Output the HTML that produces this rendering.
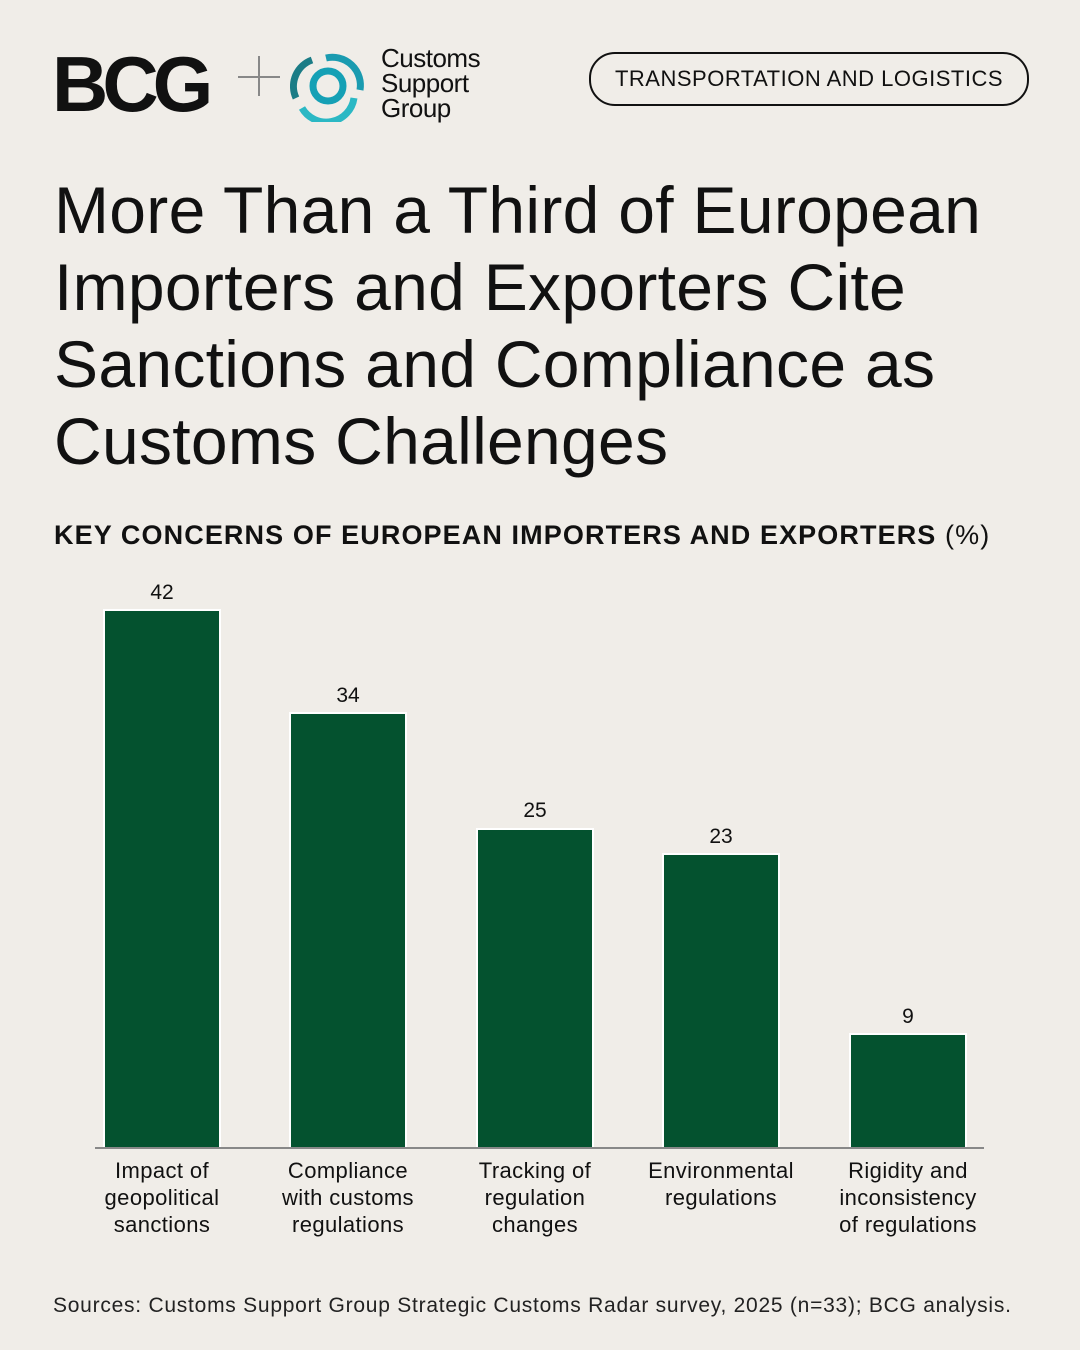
<!DOCTYPE html>
<html><head><meta charset="utf-8"><style>
body{margin:0;width:1080px;height:1350px;background:#f0ede8;font-family:"Liberation Sans",sans-serif;color:#111;position:relative;overflow:hidden}
.a{position:absolute}
.bar{position:absolute;background:#04522f;border:2px solid #fff;box-sizing:border-box;width:118px}
.v{position:absolute;width:118px;text-align:center;font-size:21px}
.l{position:absolute;width:190px;text-align:center;font-size:22px;line-height:27px;letter-spacing:0.4px}
</style></head><body>
<div class="a" style="left:52px;top:44px;font-size:78px;font-weight:bold;letter-spacing:-6px;line-height:80px">BCG</div>
<div class="a" style="left:238px;top:76px;width:42px;height:2px;background:#888"></div>
<div class="a" style="left:258px;top:56px;width:2px;height:40px;background:#888"></div>
<svg class="a" style="left:290px;top:50px" width="76" height="72" viewBox="0 0 76 72">
<path d="M36 8 A28 28 0 0 1 70 40" stroke="#1a9bb0" stroke-width="7" fill="none"/>
<path d="M64 48 A28 28 0 0 1 12 58" stroke="#2bb8c4" stroke-width="7" fill="none"/>
<path d="M6 48 A28 28 0 0 1 22 10" stroke="#1b7c86" stroke-width="7" fill="none"/>
<circle cx="38" cy="36" r="15" stroke="#15a0b5" stroke-width="7" fill="none"/>
</svg>
<div class="a" style="left:381px;top:46px;font-size:26px;line-height:25px;letter-spacing:-0.5px">Customs<br>Support<br>Group</div>
<div class="a" style="left:589px;top:52px;width:436px;height:50px;border:2px solid #111;border-radius:26px;box-sizing:content-box;text-align:center;line-height:50px;font-size:22px;letter-spacing:0.5px">TRANSPORTATION AND LOGISTICS</div>
<div class="a" style="left:54px;top:172px;font-size:66px;line-height:77px;width:1010px;letter-spacing:0.3px">More Than a Third of European Importers and Exporters Cite Sanctions and Compliance as Customs Challenges</div>
<div class="a" style="left:54px;top:520px;font-size:27px;font-weight:bold;letter-spacing:1.1px">KEY CONCERNS OF EUROPEAN IMPORTERS AND EXPORTERS <span style="font-weight:normal">(%)</span></div>
<div class="bar" style="left:103px;top:609px;height:540px"></div>
<div class="bar" style="left:289px;top:712px;height:437px"></div>
<div class="bar" style="left:476px;top:828px;height:321px"></div>
<div class="bar" style="left:662px;top:853px;height:296px"></div>
<div class="bar" style="left:849px;top:1033px;height:116px"></div>
<div class="v" style="left:103px;top:581px">42</div>
<div class="v" style="left:289px;top:684px">34</div>
<div class="v" style="left:476px;top:799px">25</div>
<div class="v" style="left:662px;top:825px">23</div>
<div class="v" style="left:849px;top:1005px">9</div>
<div class="a" style="left:95px;top:1147px;width:889px;height:2px;background:#888"></div>
<div class="l" style="left:67px;top:1157px">Impact of<br>geopolitical<br>sanctions</div>
<div class="l" style="left:253px;top:1157px">Compliance<br>with customs<br>regulations</div>
<div class="l" style="left:440px;top:1157px">Tracking of<br>regulation<br>changes</div>
<div class="l" style="left:626px;top:1157px">Environmental<br>regulations</div>
<div class="l" style="left:813px;top:1157px">Rigidity and<br>inconsistency<br>of regulations</div>
<div class="a" style="left:53px;top:1294px;font-size:21px;color:#222;letter-spacing:0.75px">Sources: Customs Support Group Strategic Customs Radar survey, 2025 (n=33); BCG analysis.</div>
</body></html>
